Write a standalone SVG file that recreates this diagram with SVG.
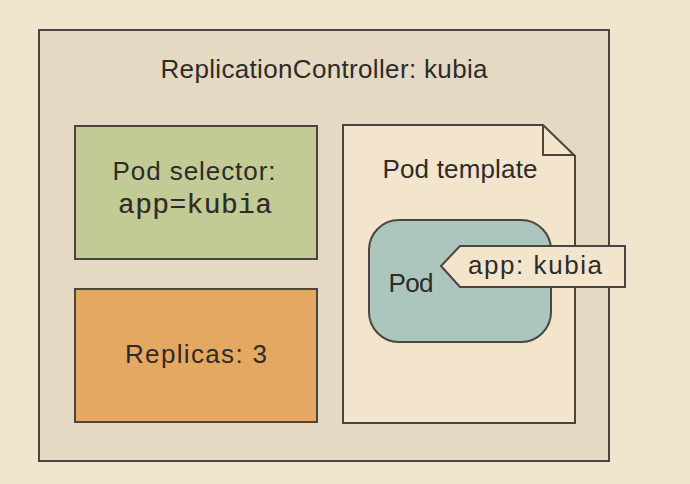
<svg xmlns="http://www.w3.org/2000/svg" width="690" height="484" viewBox="0 0 690 484">
<style>
.box{stroke:#4a4541;stroke-width:2}
.t{font-family:"Liberation Sans",Arial,sans-serif;fill:#2e2b28;font-size:26px}
.m{font-family:"Liberation Mono","Courier New",monospace;fill:#2e2b28;font-size:28px;stroke:#2e2b28;stroke-width:0.2}
</style>
<rect width="690" height="484" fill="#f1e4cc"/>
<g id="rc">
<rect class="box" x="39" y="30" width="570" height="431" fill="#e5d9c3"/>
<text class="t" x="324" y="78" text-anchor="middle" textLength="327">ReplicationController: kubia</text>
</g>
<g id="selector">
<rect class="box" x="75" y="126" width="242" height="133" fill="#c2ca96"/>
<text class="t" x="194" y="180" text-anchor="middle" textLength="163">Pod selector:</text>
<text class="m" x="195" y="213" text-anchor="middle" textLength="154">app=kubia</text>
</g>
<g id="replicas">
<rect class="box" x="75" y="289" width="242" height="133" fill="#e5a862"/>
<text class="t" x="196" y="363" text-anchor="middle" textLength="142">Replicas: 3</text>
</g>
<g id="template">
<path class="box" d="M343,125 H543 L575,156 V423 H343 Z" fill="#f3e5cc"/>
<path class="box" d="M543,125 V155 H575" fill="none"/>
<text class="t" x="460" y="178" text-anchor="middle" textLength="155">Pod template</text>
</g>
<g id="pod">
<rect class="box" x="369" y="220" width="182" height="122" rx="30" fill="#adc6bd"/>
<text class="t" x="411" y="292" text-anchor="middle" textLength="45">Pod</text>
</g>
<g id="label">
<path class="box" d="M441,266 L460,246 H625 V287 H460 Z" fill="#f3e5cc"/>
<text class="t" x="535" y="274" text-anchor="middle" textLength="134">app: kubia</text>
</g>
<g id="connectors"></g>
</svg>
